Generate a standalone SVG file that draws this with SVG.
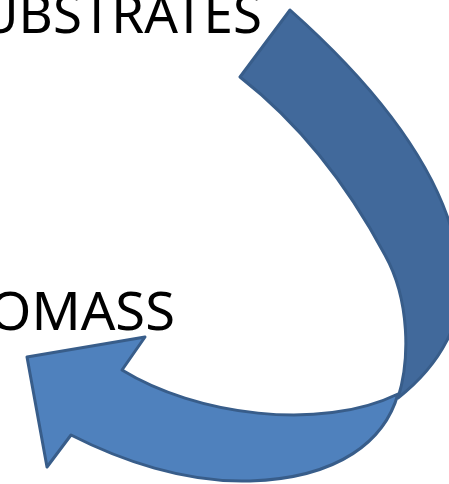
<svg xmlns="http://www.w3.org/2000/svg" width="449" height="484" viewBox="0 0 449 484">
<style>
.lbl{font-family:"Noto Sans","Open Sans","Liberation Sans",sans-serif;font-size:53px;fill:#000}
.arrow{stroke:#385d8a;stroke-width:3;stroke-linejoin:round}
.back{fill:#41699b}
.front{fill:#4f81bd}
</style>
<rect width="449" height="484" fill="#fff"/>
<g id="substrates"><text class="lbl" x="-20" y="33" textLength="282" lengthAdjust="spacingAndGlyphs">UBSTRATES</text></g>
<g id="biomass"><text class="lbl" x="-11" y="330" textLength="186" lengthAdjust="spacingAndGlyphs">OMASS</text></g>
<g id="connectors">
<path class="arrow back" d="M240,77 L290,10 C380,90 450,180 460,270 C466,320 440,365 398,398 C410,360 410,300 385,255 C345,180 295,120 240,77 Z"/>
<path class="arrow front" d="M27,357 L145,337 L122,370 C195,415 320,432 398,394 C385,440 340,478 250,481 C185,483 120,460 71,435 L47,467 Z"/>
</g>
</svg>
